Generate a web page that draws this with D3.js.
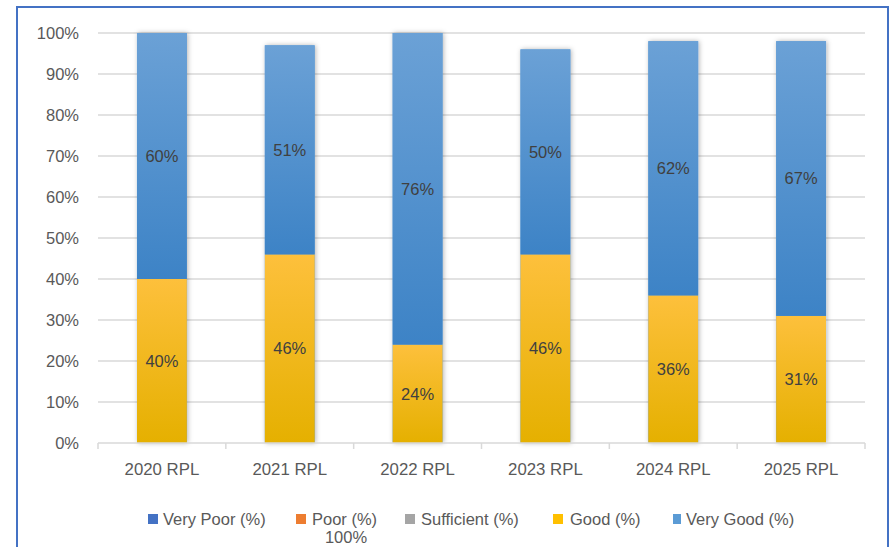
<!DOCTYPE html>
<html><head><meta charset="utf-8">
<script src="https://cdn.jsdelivr.net/npm/d3@7"></script>
<style>body{margin:0;background:#fff}svg{display:block;font-family:"Liberation Sans",Arial,sans-serif}</style>
</head><body><svg id="c" width="895" height="547"></svg>
<script>
const categories = ["2020 RPL","2021 RPL","2022 RPL","2023 RPL","2024 RPL","2025 RPL"];
const seriesNames = ["Very Poor (%)","Poor (%)","Sufficient (%)","Good (%)","Very Good (%)"];
const veryPoor = [0,0,0,0,0,0];
const poor = [0,0,0,0,0,0];
const sufficient = [0,0,0,0,0,0];
const good = [40,46,24,46,36,31];
const veryGood = [60,51,76,50,62,67];
const yTicks = [0,10,20,30,40,50,60,70,80,90,100];
const legendColors = ["#4472C4","#ED7D31","#A5A5A5","#FFC000","#5B9BD5"];
const extraText = "100%";

const svg = d3.select("#c");
const defs = svg.append("defs");
const gY = defs.append("linearGradient").attr("id","gGood").attr("x1",0).attr("y1",0).attr("x2",0).attr("y2",1);
gY.append("stop").attr("offset","0%").attr("stop-color","#FDC03C");
gY.append("stop").attr("offset","100%").attr("stop-color","#E5B000");
const gB = defs.append("linearGradient").attr("id","gVG").attr("x1",0).attr("y1",0).attr("x2",0).attr("y2",1);
gB.append("stop").attr("offset","0%").attr("stop-color","#6BA1D6");
gB.append("stop").attr("offset","100%").attr("stop-color","#3D83C6");
const f = defs.append("filter").attr("id","sh").attr("x","-30%").attr("y","-10%").attr("width","160%").attr("height","120%");
f.append("feDropShadow").attr("dx",1).attr("dy",0).attr("stdDeviation",2.5).attr("flood-color","#000").attr("flood-opacity",0.3);

// border
svg.append("rect").attr("x",17).attr("y",7).attr("width",871).attr("height",560)
  .attr("fill","none").attr("stroke","#4472C4").attr("stroke-width",2);

const L=98,R=865,T=33,B=443;
const x = d3.scaleBand().domain(categories).range([L,R]).paddingInner(0.61).paddingOuter(0.305);
const y = d3.scaleLinear().domain([0,100]).range([B,T]);

// gridlines
svg.append("g").selectAll("line").data(yTicks.filter(d=>d>0)).join("line")
  .attr("x1",L).attr("x2",R).attr("y1",d=>y(d)).attr("y2",d=>y(d))
  .attr("stroke","#D9D9D9").attr("stroke-width",1.3);

// y labels
svg.append("g").selectAll("text").data(yTicks).join("text")
  .attr("x",79).attr("y",d=>y(d)).attr("dy","0.35em").attr("text-anchor","end")
  .attr("font-size",16.5).attr("fill","#595959").text(d=>d+"%");

// stacked data
const rows = categories.map((c,i)=>({cat:c, "Very Poor (%)":veryPoor[i], "Poor (%)":poor[i], "Sufficient (%)":sufficient[i], "Good (%)":good[i], "Very Good (%)":veryGood[i]}));
const stack = d3.stack().keys(seriesNames)(rows);
const fills = {"Very Poor (%)":"#4472C4","Poor (%)":"#ED7D31","Sufficient (%)":"#A5A5A5","Good (%)":"url(#gGood)","Very Good (%)":"url(#gVG)"};

// shadow behind whole bars
svg.append("g").attr("filter","url(#sh)").selectAll("rect").data(rows).join("rect")
  .attr("x",d=>x(d.cat)).attr("width",x.bandwidth())
  .attr("y",d=>y(d3.sum(seriesNames,k=>d[k]))).attr("height",d=>B-y(d3.sum(seriesNames,k=>d[k])))
  .attr("fill","#5B9BD5");

stack.forEach(s=>{
  const g = svg.append("g");
  g.selectAll("rect").data(s.filter(d=>d[1]-d[0]>0)).join("rect")
    .attr("x",d=>x(d.data.cat)).attr("width",x.bandwidth())
    .attr("y",d=>y(d[1])).attr("height",d=>y(d[0])-y(d[1]))
    .attr("fill",fills[s.key]);
  g.selectAll("text").data(s.filter(d=>d[1]-d[0]>0)).join("text")
    .attr("x",d=>x(d.data.cat)+x.bandwidth()/2).attr("y",d=>y((d[0]+d[1])/2)).attr("dy","0.35em")
    .attr("text-anchor","middle").attr("font-size",16.5).attr("fill","#404040")
    .text(d=>(d[1]-d[0])+"%");
});

// x axis
svg.append("line").attr("x1",L).attr("x2",R).attr("y1",B).attr("y2",B).attr("stroke","#D9D9D9").attr("stroke-width",1.5);
const bounds = d3.range(categories.length+1).map(i=>L+i*(R-L)/categories.length);
svg.append("g").selectAll("line").data(bounds).join("line")
  .attr("x1",d=>d).attr("x2",d=>d).attr("y1",B).attr("y2",B+6).attr("stroke","#D9D9D9").attr("stroke-width",1.5);
svg.append("g").selectAll("text").data(categories).join("text")
  .attr("x",d=>x(d)+x.bandwidth()/2).attr("y",469).attr("dy","0.35em").attr("text-anchor","middle")
  .attr("font-size",16.8).attr("fill","#595959").text(d=>d);

// legend
const lx = [148,296,405,553,673];
const tx = [163,312,421,570,686];
const lg = svg.append("g").selectAll("g").data(seriesNames).join("g");
lg.append("rect").attr("x",(d,i)=>lx[i]).attr("y",514).attr("width",(d,i)=>i===4?8:10).attr("height",10).attr("fill",(d,i)=>legendColors[i]);
lg.append("text").attr("x",(d,i)=>tx[i]).attr("y",519).attr("dy","0.35em").attr("font-size",16.5).attr("fill","#595959").text(d=>d);
svg.append("text").attr("x",346).attr("y",537).attr("dy","0.35em").attr("text-anchor","middle")
  .attr("font-size",16.5).attr("fill","#595959").text(extraText);
</script></body></html>
